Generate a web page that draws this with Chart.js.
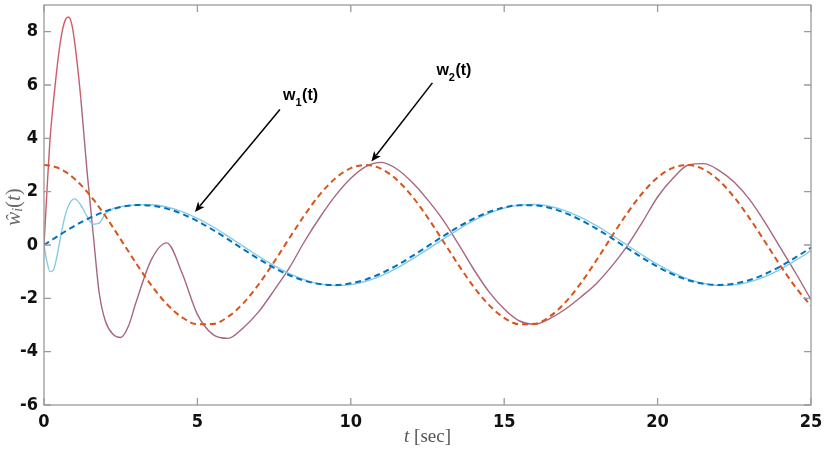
<!DOCTYPE html>
<html>
<head>
<meta charset="utf-8">
<script src="https://cdn.jsdelivr.net/npm/chart.js@4.4.1/dist/chart.umd.min.js"></script>
<style>
  html, body { margin: 0; padding: 0; background: #ffffff; }
  #wrap { width: 827px; height: 449px; position: relative; }
</style>
</head>
<body>
<div id="wrap"><canvas id="c"></canvas></div>
<script>
// ---- data ----
const timeSec = [0,0.1,0.2,0.3,0.4,0.5,0.6,0.7,0.8,0.9,1.0,1.2,1.4,1.6,1.8,2.0,2.25,2.5,2.75,3.0,
  3.5,4.0,4.5,5.0,5.5,6.0,6.5,7.0,7.5,8.0,8.5,9.0,9.5,10.0,10.5,11.0,11.5,12.0,12.5,13.0,13.5,14.0,
  14.5,15.0,15.5,16.0,16.5,17.0,17.5,18.0,18.5,19.0,19.5,20.0,20.5,21.0,21.5,22.0,22.5,23.0,23.5,
  24.0,24.5,25.0];

// reference w1(t) (blue dashed)
const w1Ref = [0,0.075,0.15,0.224,0.298,0.372,0.444,0.516,0.585,0.652,0.719,0.847,0.966,1.076,1.175,1.262,1.354,1.424,1.471,1.496,
  1.475,1.364,1.167,0.898,0.572,0.212,-0.162,-0.526,-0.857,-1.135,-1.343,-1.466,-1.499,-1.438,-1.288,-1.058,-0.763,-0.419,-0.050,0.323,0.675,0.985,
  1.237,1.407,1.490,1.484,1.387,1.197,0.931,0.618,0.261,-0.112,-0.479,-0.816,-1.102,-1.320,-1.457,-1.500,-1.447,-1.313,-1.091,
  -0.805,-0.464,-0.099];

// reference w2(t) (orange dashed)
const w2Ref = [3.0,2.995,2.978,2.951,2.914,2.866,2.808,2.739,2.661,2.573,2.476,2.255,2.003,1.721,1.414,1.087,0.657,0.212,-0.237,-0.682,
  -1.514,-2.212,-2.712,-2.970,-2.962,-2.690,-2.178,-1.471,-0.632,0.262,1.134,1.904,2.504,2.881,3.000,2.851,2.447,1.825,1.040,0.162,-0.730,-1.558,
  -2.244,-2.733,-2.973,-2.954,-2.668,-2.142,-1.427,-0.583,0.310,1.176,1.941,2.532,2.894,2.998,2.835,2.417,1.785,1.000,0.122,
  -0.767,-1.589,-2.279];

// estimate of w1 (light blue solid)
const w1Est = [0,-0.65,-1.0,-0.95,-0.55,0.05,0.65,1.15,1.48,1.67,1.73,1.5,1.08,0.78,0.82,1.17,1.36,1.44,1.48,1.504,
  1.512,1.425,1.251,0.999,0.684,0.326,-0.051,-0.425,-0.773,-1.072,-1.306,-1.458,-1.519,-1.486,-1.360,-1.150,-0.869,-0.533,-0.164,0.214,0.580,0.910,
  1.183,1.382,1.496,1.516,1.442,1.279,1.036,0.729,0.375,0.000,-0.376,-0.730,-1.037,-1.280,-1.443,-1.516,-1.496,-1.382,-1.183,
  -0.910,-0.580,-0.214];

// estimate of w2 (mauve solid)
const w2Est = [0,2.1,4.0,5.3,6.4,7.35,8.05,8.45,8.55,8.3,7.6,5.5,2.8,0.45,-1.8,-2.85,-3.35,-3.47,-3.05,-2.15,
  -0.55,0.08,-1.05,-2.6,-3.35,-3.5,-3.1,-2.5,-1.7,-0.85,0.15,1.05,1.85,2.5,2.95,3.1,2.85,2.35,1.7,0.95,0.05,-0.9,
  -1.75,-2.4,-2.85,-2.97,-2.75,-2.4,-1.95,-1.45,-0.8,-0.05,0.85,1.8,2.5,3.0,3.05,2.8,2.35,1.7,0.85,
  -0.1,-1.05,-2.05];

const xTicks = [0,5,10,15,20,25];
const yTicks = [-6,-4,-2,0,2,4,6,8];

// annotation anchors in data units: [label, sub, textX, textY, tailX, tailY, tipX, tipY]
const notes = [
  ['w', '1', 7.79, 5.45, 7.69, 5.08, 4.92, 1.24],
  ['w', '2', 12.79, 6.39, 12.66, 6.08, 10.67, 3.13]
];

const pts = arr => timeSec.map((t, i) => ({x: t, y: arr[i]}));

const tickFamily = "'Liberation Sans Narrow', 'Arial Narrow', 'DejaVu Sans Condensed', 'Liberation Sans', sans-serif";

const decor = {
  id: 'decor',
  afterDraw(chart) {
    const {ctx, chartArea: a, scales: {x, y}} = chart;
    ctx.save();
    // box
    ctx.strokeStyle = '#9a9a9a';
    ctx.lineWidth = 1.3;
    ctx.strokeRect(a.left, a.top, a.right - a.left, a.bottom - a.top);
    // inward ticks
    const tl = 7;
    ctx.beginPath();
    xTicks.forEach(v => {
      const px = x.getPixelForValue(v);
      ctx.moveTo(px, a.bottom); ctx.lineTo(px, a.bottom - tl);
      ctx.moveTo(px, a.top); ctx.lineTo(px, a.top + tl);
    });
    yTicks.forEach(v => {
      const py = y.getPixelForValue(v);
      ctx.moveTo(a.left, py); ctx.lineTo(a.left + tl, py);
      ctx.moveTo(a.right, py); ctx.lineTo(a.right - tl, py);
    });
    ctx.stroke();

    // annotations
    ctx.fillStyle = '#000';
    ctx.strokeStyle = '#000';
    notes.forEach(([lab, sub, tx, ty, ax, ay, bx, by]) => {
      const px = x.getPixelForValue(tx), py = y.getPixelForValue(ty);
      ctx.textBaseline = 'alphabetic';
      ctx.textAlign = 'left';
      ctx.font = "bold 16px 'Liberation Sans', Arial, sans-serif";
      ctx.fillText(lab, px, py);
      let cx = px + ctx.measureText(lab).width;
      ctx.font = "bold 11px 'Liberation Sans', Arial, sans-serif";
      ctx.fillText(sub, cx, py + 6);
      cx += ctx.measureText(sub).width + 0.5;
      ctx.font = "bold 16px 'Liberation Sans', Arial, sans-serif";
      ctx.fillText('(t)', cx, py);
      // arrow
      const x0 = x.getPixelForValue(ax), y0 = y.getPixelForValue(ay);
      const x1 = x.getPixelForValue(bx), y1 = y.getPixelForValue(by);
      const ang = Math.atan2(y1 - y0, x1 - x0);
      const hl = 10, hw = 4.2;
      ctx.lineWidth = 1.5;
      ctx.beginPath();
      ctx.moveTo(x0, y0);
      ctx.lineTo(x1 - Math.cos(ang) * (hl - 2), y1 - Math.sin(ang) * (hl - 2));
      ctx.stroke();
      ctx.save();
      ctx.translate(x1, y1);
      ctx.rotate(ang);
      ctx.beginPath();
      ctx.moveTo(0, 0);
      ctx.lineTo(-hl, -hw);
      ctx.lineTo(-hl * 0.75, 0);
      ctx.lineTo(-hl, hw);
      ctx.closePath();
      ctx.fill();
      ctx.restore();
    });

    // x-axis title: t [sec]
    const serifI = "italic 19px 'Liberation Serif', 'DejaVu Serif', serif";
    const serifR = "19px 'Liberation Serif', 'DejaVu Serif', serif";
    ctx.fillStyle = '#555555';
    ctx.textBaseline = 'middle';
    ctx.textAlign = 'left';
    ctx.font = serifI; const wt = ctx.measureText('t').width;
    ctx.font = serifR; const ws = ctx.measureText(' [sec]').width;
    let sx = (a.left + a.right) / 2 - (wt + ws) / 2;
    const sy = 437;
    ctx.font = serifI; ctx.fillText('t', sx, sy);
    ctx.font = serifR; ctx.fillText(' [sec]', sx + wt, sy);

    // y-axis title: ŵ_i(t)
    ctx.save();
    ctx.translate(14, 207);
    ctx.rotate(-Math.PI / 2);
    ctx.fillStyle = '#6a6a6a';
    const big = "italic 21px 'Liberation Serif', 'DejaVu Serif', serif";
    const small = "italic 14px 'Liberation Serif', 'DejaVu Serif', serif";
    const up = "21px 'Liberation Serif', 'DejaVu Serif', serif";
    const parts = [['ŵ', big, 0], ['i', small, 4], ['(', up, 0], ['t', big, 0], [')', up, 0]];
    let tot = 0;
    parts.forEach(p => { ctx.font = p[1]; tot += ctx.measureText(p[0]).width; });
    let ox = -tot / 2;
    ctx.textBaseline = 'middle';
    parts.forEach(p => { ctx.font = p[1]; ctx.fillText(p[0], ox, p[2]); ox += ctx.measureText(p[0]).width; });
    ctx.restore();

    ctx.restore();
  }
};

new Chart(document.getElementById('c'), {
  type: 'line',
  data: {
    datasets: [
      { label: 'w1 ref', data: pts(w1Ref), borderColor: '#0072BD', borderWidth: 2, borderDash: [6, 4] },
      { label: 'w2 ref', data: pts(w2Ref), borderColor: '#D95319', borderWidth: 2, borderDash: [6, 4] },
      { label: 'w1 est', data: pts(w1Est), borderColor: '#86CBE6', borderWidth: 1.4 },
      { label: 'w2 est', data: pts(w2Est), borderColor: '#A8667E', borderWidth: 1.4,
        segment: { borderColor: c => (c.p0.parsed.x < 1.1 ? '#D25A68' : '#A8667E') } }
    ]
  },
  options: {
    responsive: true,
    maintainAspectRatio: false,
    animation: false,
    layout: { padding: { top: 5, right: 16, left: 0, bottom: 0 } },
    elements: {
      point: { radius: 0 },
      line: { cubicInterpolationMode: 'monotone', fill: false }
    },
    plugins: { legend: { display: false }, tooltip: { enabled: false } },
    scales: {
      x: {
        type: 'linear', min: 0, max: 25,
        afterBuildTicks: s => { s.ticks = xTicks.map(v => ({value: v})); },
        afterFit: s => { s.height = 44; s.paddingLeft = 0; s.paddingRight = 0; },
        grid: { display: false, drawTicks: false },
        border: { display: false },
        ticks: { padding: 7, color: '#111', font: { family: tickFamily, size: 18, weight: 'bold' }, maxRotation: 0 }
      },
      y: {
        type: 'linear', min: -6, max: 9,
        afterBuildTicks: s => { s.ticks = yTicks.map(v => ({value: v})); },
        afterFit: s => { s.width = 44; s.paddingTop = 0; s.paddingBottom = 0; },
        grid: { display: false, drawTicks: false },
        border: { display: false },
        ticks: { padding: 6, color: '#111', font: { family: tickFamily, size: 18, weight: 'bold' } }
      }
    }
  },
  plugins: [decor]
});
</script>
</body>
</html>
